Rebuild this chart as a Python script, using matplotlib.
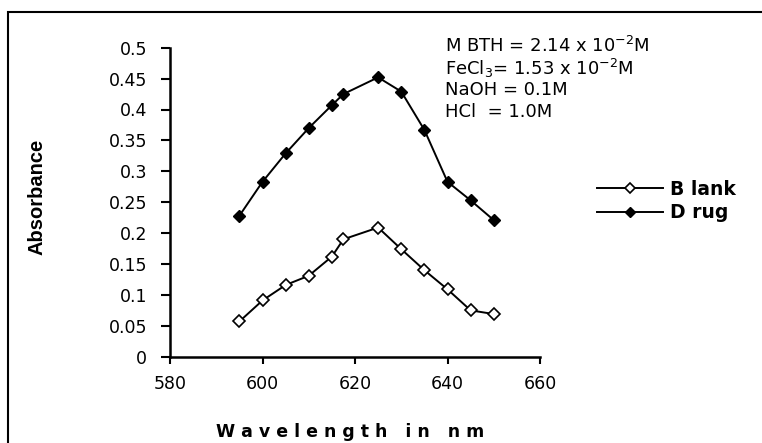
import matplotlib
matplotlib.use("Agg")
import matplotlib.pyplot as plt
from matplotlib.lines import Line2D
from matplotlib.patches import Rectangle

wavelength = [595, 600, 605, 610, 615, 617.5, 625, 630, 635, 640, 645, 650]
blank = [0.057, 0.091, 0.116, 0.131, 0.162, 0.190, 0.209, 0.174, 0.140, 0.109, 0.075, 0.069]
drug = [0.228, 0.283, 0.329, 0.370, 0.407, 0.425, 0.452, 0.429, 0.367, 0.283, 0.253, 0.221]
xticks = [580, 600, 620, 640, 660]
yticks = [0, 0.05, 0.1, 0.15, 0.2, 0.25, 0.3, 0.35, 0.4, 0.45, 0.5]
ytick_labels = ["0", "0.05", "0.1", "0.15", "0.2", "0.25", "0.3", "0.35", "0.4", "0.45", "0.5"]
conditions = [
    r"M BTH = 2.14 x 10$^{-2}$M",
    r"FeCl$_3$= 1.53 x 10$^{-2}$M",
    "NaOH = 0.1M",
    "HCl  = 1.0M",
]

plt.rcParams['font.family'] = ['DejaVu Sans']
plt.rcParams['mathtext.fontset'] = 'dejavusans'
plt.rcParams['mathtext.default'] = 'regular'

W, H = 762, 443
fig = plt.figure(figsize=(W / 100, H / 100), dpi=100)
fig.patch.set_facecolor('white')

# outer frame (partially cut off at right/bottom)
fig.patches.append(Rectangle((8 / W, -0.05), 1.1, 1 - 12 / H + 0.05, transform=fig.transFigure,
                             fill=False, edgecolor='black', linewidth=1.5))

ax = fig.add_axes([170 / W, 1 - 356.7 / H, (540 - 170) / W, (356.7 - 47.7) / H])
ax.plot(wavelength, blank, color='black', lw=1.4, marker='D', ms=6,
        markerfacecolor='white', markeredgecolor='black', markeredgewidth=1.2, label='Blank')
ax.plot(wavelength, drug, color='black', lw=1.4, marker='D', ms=6,
        markerfacecolor='black', markeredgecolor='black', label='Drug')

ax.set_xlim(580, 660)
ax.set_ylim(0, 0.5)
ax.set_xticks(xticks)
ax.set_xticklabels([str(v) for v in xticks])
ax.set_yticks(yticks)
ax.set_yticklabels(ytick_labels)
ax.tick_params(direction='out', width=1.5, labelsize=12.5)
ax.tick_params(axis='x', length=5, pad=8.5)
ax.tick_params(axis='y', length=6.5, pad=10)
for s in ['top', 'right']:
    ax.spines[s].set_visible(False)
for s in ['left', 'bottom']:
    ax.spines[s].set_linewidth(1.8)
ax.patch.set_alpha(0)

fig.text(37 / W, 1 - 197 / H, "Absorbance", rotation=90, ha='center', va='center',
         fontsize=14.5, fontweight='bold', family=['Liberation Sans'])
fig.text(350 / W, 1 - 432 / H, "W a v e l e n g t h   i n   n m", ha='center', va='center',
         fontsize=12.5, fontweight='bold')

for i, t in enumerate(conditions):
    fig.text(445 / W, 1 - (46 + 22 * i) / H, t, ha='left', va='center', fontsize=13)

leg = ax.legend(handles=[
    Line2D([], [], color='black', lw=1.4, marker='D', ms=5.5, markerfacecolor='white', markeredgewidth=1.2),
    Line2D([], [], color='black', lw=1.4, marker='D', ms=5.5, markerfacecolor='black')],
    labels=["B lank", "D rug"], loc='center left', bbox_to_anchor=(597 / W, 1 - 201 / H),
    bbox_transform=fig.transFigure, frameon=False, handlelength=3.5, handletextpad=0.4,
    borderpad=0, borderaxespad=0,
    labelspacing=0.25, prop={'weight': 'bold', 'size': 13.5})

fig.savefig("out.png", dpi=100, facecolor='white')
